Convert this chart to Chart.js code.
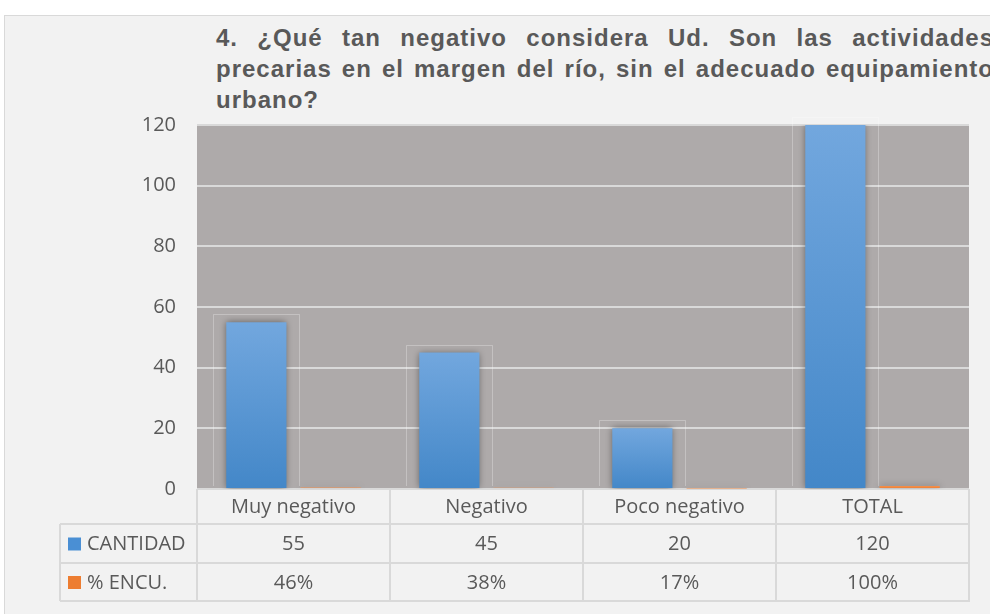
<!DOCTYPE html>
<html>
<head>
<meta charset="utf-8">
<script src="https://cdn.jsdelivr.net/npm/chart.js@4/dist/chart.umd.min.js"></script>
<style>
  html, body { margin: 0; padding: 0; background: #fff; width: 990px; height: 614px; overflow: hidden; }
  #frame { position: absolute; left: 4px; top: 15px; width: 990px; height: 610px; background: #f2f2f2;
           border-left: 1px solid #d9d9d9; border-top: 1px solid #d9d9d9; }
  #title { position: absolute; left: 216px; top: 22px; width: 778px; color: #595959;
           font: bold 24px "Liberation Sans", Arial, sans-serif; line-height: 31px; letter-spacing: 1px;
           text-align: justify; }
  #chart { position: absolute; left: 5px; top: 16px; }
</style>
</head>
<body>
<div id="frame"></div>
<div id="title">4. ¿Qué tan negativo considera Ud. Son las actividades precarias en el margen del río, sin el adecuado equipamiento urbano?</div>
<canvas id="chart" width="985" height="598"></canvas>
<script>
// start: data
const categories = ['Muy negativo', 'Negativo', 'Poco negativo', 'TOTAL'];
const cantidad = [55, 45, 20, 120];
const encuesta = [0.46, 0.38, 0.17, 1.00];
const yTicks = [0, 20, 40, 60, 80, 100, 120];
// end: data

const textColor = '#595959';
const lineColor = '#d9d9d9';
const font = '"Open Sans", "Noto Sans", sans-serif';

function barGradient(ctx, top, bottom) {
    const c = ctx.chart;
    if (!c.chartArea) return top;
    const ys = c.scales.y;
    const v = ctx.raw || 0;
    const y0 = ys.getPixelForValue(v);
    const y1 = ys.getPixelForValue(0);
    const g = c.ctx.createLinearGradient(0, y0, 0, y1 + 0.01);
    g.addColorStop(0, top);
    g.addColorStop(1, bottom);
    return g;
}

const plotBg = {
    id: 'plotBg',
    beforeDraw(chart) {
        const a = chart.chartArea, ctx = chart.ctx;
        ctx.save();
        ctx.fillStyle = '#aeaaaa';
        ctx.fillRect(a.left, a.top, a.right - a.left, a.bottom - a.top);
        ctx.restore();
    },
    beforeDatasetsDraw(chart) {
        // faint glow frames around the blue bars
        const ctx = chart.ctx;
        ctx.save();
        ctx.strokeStyle = 'rgba(255,255,255,0.28)';
        ctx.lineWidth = 1;
        chart.getDatasetMeta(0).data.forEach(el => {
            const l = Math.round(el.x - el.width / 2 - 13) + 0.5;
            const r = Math.round(el.x + el.width / 2 + 13) + 0.5;
            const t = Math.round(el.y - 8) + 0.5;
            const b = Math.round(el.base - 2);
            ctx.beginPath();
            ctx.moveTo(l, b); ctx.lineTo(l, t); ctx.lineTo(r, t); ctx.lineTo(r, b);
            ctx.stroke();
        });
        ctx.restore();
    },
    beforeDatasetDraw(chart) {
        chart.ctx.save();
        chart.ctx.shadowColor = 'rgba(0,0,0,0.45)';
        chart.ctx.shadowBlur = 7;
    },
    afterDatasetDraw(chart) {
        chart.ctx.restore();
    }
};

const dataTable = {
    id: 'dataTable',
    afterDraw(chart) {
        const ctx = chart.ctx, xs = chart.scales.x, a = chart.chartArea;
        const n = categories.length;
        const w = (xs.right - xs.left) / n;
        const top = a.bottom, r1 = top + 35, r2 = r1 + 39, r3 = r2 + 38;
        const left = 55;
        ctx.save();
        ctx.strokeStyle = lineColor;
        ctx.lineWidth = 2;
        ctx.beginPath();
        [r1, r2, r3].forEach(y => { ctx.moveTo(left, y); ctx.lineTo(xs.right + 1, y); });
        ctx.moveTo(left, r1); ctx.lineTo(left, r3);
        for (let i = 0; i <= n; i++) {
            const x = xs.left + i * w;
            ctx.moveTo(x, top); ctx.lineTo(x, r3);
        }
        ctx.stroke();

        ctx.fillStyle = textColor;
        ctx.font = '20px ' + font;
        ctx.textAlign = 'center';
        ctx.textBaseline = 'middle';
        categories.forEach((c, i) => {
            const cx = xs.getPixelForValue(i);
            ctx.fillText(c, cx, (top + r1) / 2 + 1);
            ctx.fillText(String(cantidad[i]), cx, (r1 + r2) / 2 + 1);
            ctx.fillText(Math.round(encuesta[i] * 100) + '%', cx, (r2 + r3) / 2 + 1);
        });

        ctx.textAlign = 'left';
        const rows = [
            [chart.data.datasets[0].label, '#4a8fd4', (r1 + r2) / 2],
            [chart.data.datasets[1].label, '#ed7d31', (r2 + r3) / 2]
        ];
        rows.forEach(([label, col, cy]) => {
            ctx.fillStyle = col;
            ctx.fillRect(63, cy - 6, 13, 13);
            ctx.fillStyle = textColor;
            ctx.fillText(label, 82, cy + 1);
        });
        ctx.restore();
    }
};

new Chart(document.getElementById('chart'), {
    type: 'bar',
    data: {
        labels: categories,
        datasets: [{
            label: 'CANTIDAD',
            data: cantidad,
            backgroundColor: ctx => barGradient(ctx, '#72a7de', '#4387c8'),
            categoryPercentage: 0.77,
            barPercentage: 0.81
        }, {
            label: '% ENCU.',
            data: encuesta,
            backgroundColor: ctx => barGradient(ctx, '#f4914e', '#e9772a'),
            categoryPercentage: 0.77,
            barPercentage: 0.81
        }]
    },
    options: {
        responsive: false,
        animation: false,
        layout: { padding: { top: 109, right: 21, bottom: 125, left: 0 } },
        plugins: {
            legend: { display: false },
            tooltip: { enabled: false }
        },
        scales: {
            x: { display: false },
            y: {
                min: 0,
                max: 120,
                afterBuildTicks: s => { s.ticks = yTicks.map(v => ({ value: v })); },
                afterFit: s => { s.width = 192; },
                border: { display: false },
                grid: { color: lineColor, lineWidth: 2, drawTicks: false },
                ticks: { color: textColor, padding: 21, font: { size: 20, family: font } }
            }
        }
    },
    plugins: [plotBg, dataTable]
});
</script>
</body>
</html>
